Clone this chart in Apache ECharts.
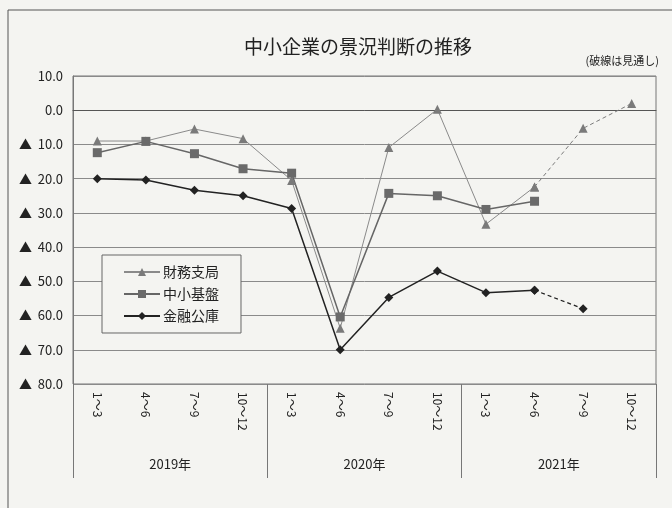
<!DOCTYPE html>
<html><head><meta charset="utf-8">
<script src="https://cdn.jsdelivr.net/npm/echarts@6/dist/echarts.min.js"></script>
<style>html,body{margin:0;padding:0;background:#f4f4f1;}#c{width:672px;height:508px;}</style>
</head><body><div id="c"></div>
<script>
const quarters = ['1～3','4～6','7～9','10～12','1～3','4～6','7～9','10～12','1～3','4～6','7～9','10～12'];
const years = ['2019年','2020年','2021年'];
const yTicks = [10, 0, -10, -20, -30, -40, -50, -60, -70, -80];
const zaimu = [-9.0, -9.0, -5.5, -8.3, -20.5, -63.7, -10.9, 0.3, -33.3, -22.4, null, null];
const zaimuOutlook = [null, null, null, null, null, null, null, null, null, -22.4, -5.3, 2.0];
const chusho = [-12.4, -9.1, -12.7, -17.1, -18.4, -60.4, -24.3, -25.0, -29.0, -26.6, null, null];
const kinyu = [-20.0, -20.4, -23.4, -25.0, -28.7, -70.0, -54.7, -47.0, -53.3, -52.6, null, null];
const kinyuOutlook = [null, null, null, null, null, null, null, null, null, -52.6, -58.0, null];

const FONT = '"Noto Sans CJK JP", sans-serif';
const chart = echarts.init(document.getElementById('c'));
chart.setOption({
  backgroundColor: '#f4f4f1',
  animation: false,
  textStyle: { fontFamily: FONT, color: '#222' },
  title: [
    { text: '中小企業の景況判断の推移', left: 353, textAlign: 'center', top: 32,
      textStyle: { fontSize: 19, fontWeight: 'normal', color: '#222', fontFamily: FONT } },
    { text: '(破線は見通し)', right: 8, top: 50,
      textStyle: { fontSize: 11, fontWeight: 'normal', color: '#222', fontFamily: FONT } }
  ],
  graphic: [
    { type: 'polyline', shape: { points: [[8, 508], [8, 10], [672, 10]] },
      style: { stroke: '#555', lineWidth: 1, fill: null } }
  ],
  legend: {
    data: ['財務支局', '中小基盤', '金融公庫'],
    orient: 'vertical', left: 102, top: 255,
    padding: [10, 22, 10, 21], itemGap: 8, itemWidth: 36, itemHeight: 10,
    borderColor: '#666', borderWidth: 1, backgroundColor: '#f4f4f1',
    textStyle: { fontSize: 14, color: '#222', fontFamily: FONT, padding: [0, 0, 0, -2] }
  },
  grid: { left: 73, right: 16, top: 76, bottom: 124, show: true, borderColor: '#777', borderWidth: 1 },
  xAxis: [
    { type: 'category', data: quarters, position: 'bottom',
      axisLine: { lineStyle: { color: '#555' } }, axisTick: { show: false },
      axisLabel: { rotate: -90, fontSize: 12, color: '#222', margin: 8, fontFamily: FONT } },
    { type: 'category', data: years, position: 'bottom',
      axisLine: { show: false },
      axisTick: { show: true, length: 94, lineStyle: { color: '#777' } },
      axisLabel: { fontSize: 13, color: '#222', margin: 74, fontFamily: FONT } }
  ],
  yAxis: {
    type: 'value', min: -80, max: 10, interval: 10,
    axisLine: { show: true, lineStyle: { color: '#777' } }, axisTick: { show: false },
    splitLine: { lineStyle: { color: '#8a8a8a', width: 1 } },
    axisLabel: { fontSize: 13, color: '#222', margin: 10, fontFamily: FONT,
      formatter: v => v < 0 ? '▲  ' + Math.abs(v).toFixed(1) : v.toFixed(1) }
  },
  series: [
    { name: '財務支局', type: 'line', data: zaimu, symbol: 'triangle', symbolSize: 9,
      lineStyle: { color: '#8a8a8a', width: 1 }, itemStyle: { color: '#7a7a7a' } },
    { name: '中小基盤', type: 'line', data: chusho, symbol: 'rect', symbolSize: 9,
      lineStyle: { color: '#666', width: 1.5 }, itemStyle: { color: '#6a6a6a' } },
    { name: '金融公庫', type: 'line', data: kinyu, symbol: 'diamond', symbolSize: 9,
      lineStyle: { color: '#222', width: 1.5 }, itemStyle: { color: '#222' } },
    { name: '財務支局見通し', type: 'line', data: zaimuOutlook, symbol: 'triangle', symbolSize: 9,
      lineStyle: { color: '#7a7a7a', width: 1, type: [4, 3] }, itemStyle: { color: '#7a7a7a' } },
    { name: '金融公庫見通し', type: 'line', data: kinyuOutlook, symbol: 'diamond', symbolSize: 9,
      lineStyle: { color: '#222', width: 1.2, type: [4, 3] }, itemStyle: { color: '#222' } }
  ]
});
</script></body></html>
